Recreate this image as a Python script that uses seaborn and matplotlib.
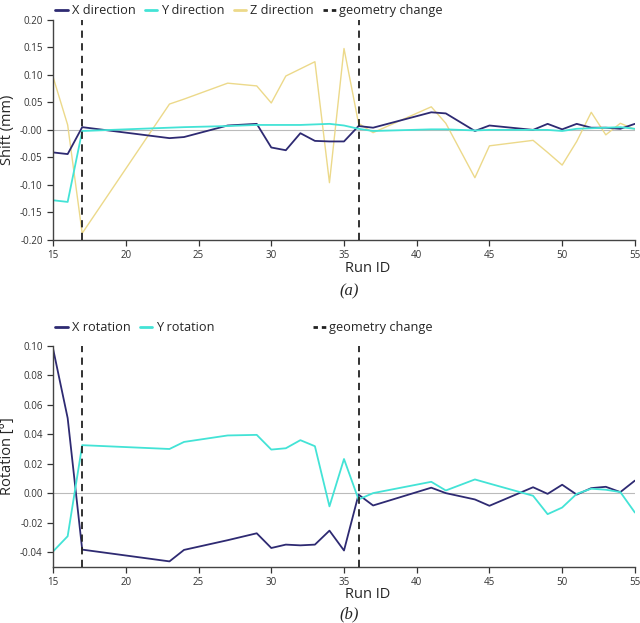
import numpy as np
import pandas as pd
import matplotlib.pyplot as plt
from matplotlib.lines import Line2D
import seaborn as sns

runs = [15, 16, 17, 23, 24, 27, 29, 30, 31, 32, 33, 34, 35, 36, 37,
        41, 42, 44, 45, 48, 49, 50, 51, 52, 53, 54, 55]

x_dir = [-0.041, -0.044, 0.005, -0.015, -0.013, 0.008, 0.011, -0.032, -0.037, -0.006,
         -0.020, -0.021, -0.021, 0.007, 0.004, 0.032, 0.030, -0.002, 0.008, 0.000,
         0.011, 0.001, 0.011, 0.004, 0.004, 0.002, 0.011]
y_dir = [-0.128, -0.131, -0.002, 0.004, 0.005, 0.007, 0.009, 0.009, 0.009, 0.009,
         0.010, 0.011, 0.008, 0.002, -0.002, 0.001, 0.001, -0.001, 0.000, 0.000,
         0.000, -0.002, 0.002, 0.003, 0.004, 0.005, 0.002]
z_dir = [0.096, 0.009, -0.188, 0.047, 0.056, 0.085, 0.080, 0.049, 0.098, 0.111,
         0.124, -0.096, 0.148, 0.012, -0.005, 0.042, 0.012, -0.087, -0.029, -0.019,
         -0.041, -0.064, -0.021, 0.032, -0.009, 0.012, 0.001]

x_rot = [0.098, 0.051, -0.0384, -0.0464, -0.0386, -0.032, -0.0273, -0.0373, -0.035, -0.0355,
         -0.035, -0.0255, -0.039, -0.001, -0.0084, 0.0037, 0.0, -0.0043, -0.0086, 0.004,
         -0.0005, 0.0057, -0.001, 0.0034, 0.0043, 0.0007, 0.0085]
y_rot = [-0.0396, -0.0293, 0.0326, 0.030, 0.0348, 0.0392, 0.0396, 0.0296, 0.0305, 0.036,
         0.0319, -0.009, 0.0232, -0.0043, 0.0, 0.0077, 0.0018, 0.0093, 0.0065, -0.0018,
         -0.0143, -0.0098, -0.0005, 0.003, 0.0023, 0.0007, -0.0132]

geometry_changes = [17, 36]

navy = '#2e2a72'
cyan = '#43e3d6'
khaki = '#ecd98a'

sns.set_style('ticks')
plt.rcParams['font.family'] = ['Open Sans', 'DejaVu Sans']

shift = pd.DataFrame({'run': runs * 3,
                      'value': x_dir + y_dir + z_dir,
                      'series': ['X direction'] * len(runs) + ['Y direction'] * len(runs)
                                + ['Z direction'] * len(runs)})
rot = pd.DataFrame({'run': runs * 2,
                    'value': x_rot + y_rot,
                    'series': ['X rotation'] * len(runs) + ['Y rotation'] * len(runs)})

fig = plt.figure(figsize=(6.4, 6.23), dpi=100)
ax1 = fig.add_axes([0.083, 0.615, 0.909, 0.353])
ax2 = fig.add_axes([0.083, 0.0904, 0.909, 0.3542])


def style_axis(ax, ylabel, label_y):
    ax.axhline(0, color='#bbbbbb', lw=0.8, zorder=0)
    for g in geometry_changes:
        ax.axvline(g, color='#222222', lw=1.3, ls=(0, (4, 3)), zorder=5)
    ax.set_xlim(15, 55)
    ax.set_xticks(range(15, 56, 5))
    ax.tick_params(labelsize=7, length=4, width=0.9, colors='#333333')
    ax.set_ylabel(ylabel, fontsize=10.5)
    ax.set_xlabel('Run ID', fontsize=10.5)
    ax.xaxis.set_label_coords(0.54, label_y)
    sns.despine(ax=ax)
    for s in ['left', 'bottom']:
        ax.spines[s].set_color('#444444')
        ax.spines[s].set_linewidth(1.0)


sns.lineplot(data=shift, x='run', y='value', hue='series',
             palette={'X direction': navy, 'Y direction': cyan, 'Z direction': khaki},
             ax=ax1, legend=False, linewidth=1.2)
for line, lw in zip(ax1.get_lines(), [1.3, 1.3, 1.0]):
    line.set_linewidth(lw)
ax1.get_lines()[2].set_zorder(1)
ax1.set_ylim(-0.2, 0.2)
ax1.set_yticks(np.arange(-0.2, 0.201, 0.05))
ax1.set_yticklabels([f'{v:.2f}' for v in np.arange(-0.2, 0.201, 0.05)])
style_axis(ax1, 'Shift (mm)', -0.095)

sns.lineplot(data=rot, x='run', y='value', hue='series',
             palette={'X rotation': navy, 'Y rotation': cyan},
             ax=ax2, legend=False, linewidth=1.3)
ax2.set_ylim(-0.05, 0.1)
ax2.set_yticks(np.arange(-0.04, 0.101, 0.02))
ax2.set_yticklabels([f'{v:.2f}' for v in np.arange(-0.04, 0.101, 0.02)])
style_axis(ax2, 'Rotation [°]', -0.09)

leg_kw = dict(ncol=4, frameon=False, fontsize=9.2, loc='lower left',
              handlelength=1.0, handletextpad=0.3, columnspacing=0.7, borderaxespad=0)

dash = (0, (1.6, 1.4))
h1 = [Line2D([], [], color=navy, lw=2), Line2D([], [], color=cyan, lw=2),
      Line2D([], [], color=khaki, lw=2), Line2D([], [], color='#222222', lw=2, ls=dash)]
ax1.legend(h1, ['X direction', 'Y direction', 'Z direction', 'geometry change'],
           bbox_to_anchor=(-0.005, 0.99), **leg_kw)

# third slot left empty so "geometry change" lines up with the top panel
h2 = [Line2D([], [], color=navy, lw=2), Line2D([], [], color=cyan, lw=2),
      Line2D([], [], color='none', lw=2), Line2D([], [], color='#222222', lw=2, ls=dash)]
leg2 = ax2.legend(h2, ['X rotation', 'Y rotation', 'Z direction', 'geometry change'],
                  bbox_to_anchor=(-0.005, 1.03), **leg_kw)
leg2.get_texts()[2].set_color('none')

fig.text(0.545, 1 - 291 / 623, '(a)', ha='center', va='center', fontsize=12,
         family='Liberation Serif', style='italic')
fig.text(0.545, 1 - 614 / 623, '(b)', ha='center', va='center', fontsize=12,
         family='Liberation Serif', style='italic')

fig.savefig('out.png', dpi=100)
